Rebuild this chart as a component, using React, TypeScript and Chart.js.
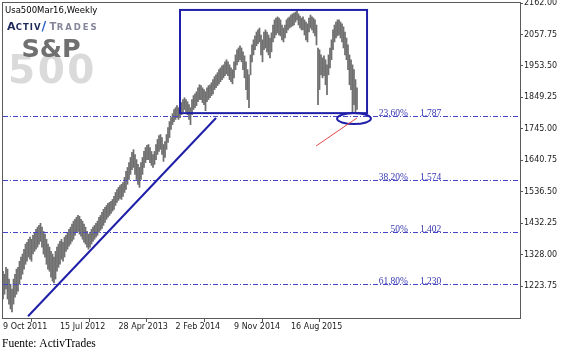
import React, { useEffect, useRef } from 'react';
import { Chart, registerables } from 'chart.js';

Chart.register(...registerables);

// Weekly high / low of Usa500Mar16 (one value per weekly bar)
const weeklyHigh = [
  1273, 1263, 1286, 1280, 1247, 1230, 1214, 1247, 1263, 1280,
  1286, 1306, 1320, 1330, 1346, 1363, 1369, 1379, 1386, 1379,
  1392, 1402, 1412, 1419, 1425, 1432, 1419, 1405, 1396, 1379,
  1363, 1353, 1339, 1330, 1320, 1339, 1353, 1363, 1372, 1379,
  1369, 1386, 1392, 1402, 1412, 1419, 1429, 1439, 1445, 1452,
  1458, 1455, 1445, 1439, 1429, 1419, 1405, 1396, 1402, 1412,
  1419, 1425, 1432, 1439, 1452, 1458, 1468, 1478, 1485, 1491,
  1498, 1501, 1505, 1511, 1521, 1534, 1544, 1551, 1557, 1561,
  1567, 1584, 1604, 1617, 1633, 1650, 1667, 1676, 1660, 1643,
  1627, 1617, 1633, 1650, 1670, 1683, 1690, 1693, 1683, 1670,
  1660, 1670, 1693, 1710, 1723, 1726, 1716, 1693, 1703, 1726,
  1749, 1769, 1782, 1795, 1809, 1815, 1822, 1815, 1825, 1832,
  1842, 1848, 1842, 1835, 1825, 1815, 1842, 1855, 1861, 1868,
  1881, 1891, 1888, 1881, 1875, 1868, 1881, 1888, 1891, 1898,
  1908, 1918, 1924, 1931, 1941, 1947, 1954, 1957, 1967, 1974,
  1967, 1957, 1947, 1941, 1967, 1990, 2007, 2013, 2020, 2013,
  2000, 1987, 1967, 1941, 1924, 1990, 2023, 2040, 2053, 2066,
  2073, 2079, 2056, 2040, 2066, 2073, 2066, 2056, 2046, 2063,
  2089, 2106, 2112, 2116, 2112, 2106, 2089, 2079, 2089, 2106,
  2112, 2116, 2122, 2126, 2129, 2132, 2136, 2126, 2119, 2112,
  2116, 2106, 2099, 2093, 2112, 2122, 2116, 2112, 2106, 2089,
  2013, 2007, 1990, 1980, 1987, 1974, 1957, 1990, 2013, 2040,
  2073, 2089, 2099, 2106, 2106, 2099, 2093, 2083, 2066, 2046,
  2023, 1990, 1974, 1957, 1941, 1908, 1881,
];
const weeklyLow = [
  1181, 1197, 1214, 1181, 1164, 1148, 1138, 1164, 1187, 1197,
  1207, 1230, 1247, 1263, 1280, 1296, 1306, 1320, 1313, 1306,
  1330, 1339, 1346, 1353, 1363, 1372, 1353, 1330, 1320, 1296,
  1280, 1273, 1253, 1240, 1234, 1247, 1273, 1286, 1296, 1313,
  1306, 1320, 1339, 1346, 1356, 1363, 1372, 1379, 1392, 1402,
  1405, 1396, 1389, 1379, 1369, 1363, 1353, 1346, 1353, 1363,
  1372, 1379, 1386, 1392, 1402, 1409, 1415, 1425, 1435, 1445,
  1452, 1458, 1465, 1472, 1478, 1491, 1501, 1508, 1514, 1511,
  1521, 1534, 1544, 1561, 1577, 1594, 1610, 1617, 1594, 1577,
  1561, 1551, 1577, 1594, 1617, 1633, 1643, 1643, 1633, 1624,
  1617, 1627, 1643, 1660, 1670, 1677, 1660, 1637, 1650, 1677,
  1700, 1716, 1743, 1759, 1769, 1776, 1782, 1776, 1782, 1792,
  1802, 1809, 1802, 1792, 1776, 1759, 1792, 1809, 1815, 1822,
  1835, 1842, 1842, 1832, 1825, 1805, 1835, 1842, 1848, 1855,
  1861, 1875, 1881, 1888, 1894, 1901, 1908, 1914, 1921, 1927,
  1921, 1908, 1901, 1894, 1914, 1941, 1957, 1967, 1974, 1967,
  1941, 1914, 1875, 1842, 1815, 1924, 1967, 1990, 2007, 2020,
  2027, 2033, 1990, 1967, 2007, 2013, 2000, 1990, 1980, 2000,
  2033, 2046, 2056, 2063, 2056, 2053, 2040, 2033, 2046, 2063,
  2073, 2079, 2083, 2086, 2089, 2099, 2106, 2089, 2079, 2073,
  2073, 2056, 2040, 2033, 2066, 2079, 2073, 2063, 2053, 2023,
  1825, 1875, 1924, 1914, 1921, 1891, 1858, 1924, 1947, 1974,
  2007, 2033, 2046, 2053, 2056, 2046, 2033, 2013, 1990, 1974,
  1941, 1891, 1875, 1802, 1825, 1802, 1809,
];

const priceTicks = [2162.0, 2057.75, 1953.5, 1849.25, 1745.0, 1640.75, 1536.5, 1432.25, 1328.0, 1223.75];
const priceMin = 1118;
const priceMax = 2162;
const barsInView = 344.67;

const dateTickBars = [0, 38, 77, 115, 154, 192];
const dateTickLabels = ['9 Oct 2011', '15 Jul 2012', '28 Apr 2013', '2 Feb 2014', '9 Nov 2014', '16 Aug 2015'];

const fibPercents = ['23,60%', '38,20%', '50%', '61,80%'];
const fibLevels = [1787, 1574, 1402, 1230];
const fibValueTexts = ['1.787', '1.574', '1.402', '1.230'];
const fibPercentBar = 270;
const fibValueBar = 278;

const boxBars = [118, 242.7];
const boxPrices = [2139, 1797];
const trendBars = [16.7, 142];
const trendPrices = [1124, 1781];
const ellipseCenter = [234, 1779];
const ellipseHalf = [11.3, 18.2];
const redBars = [208.7, 236];
const redPrices = [1688, 1781];

const symbolTitle = 'Usa500Mar16,Weekly';
const sourceText = 'Fuente: ActivTrades';

const overlayPlugin = {
  id: 'mt4Overlay',
  beforeDraw(chart: any) {
    const ctx = chart.ctx;
    ctx.save();
    ctx.fillStyle = '#ffffff';
    ctx.fillRect(0, 0, chart.width, chart.height);
    ctx.restore();
  },
  beforeDatasetsDraw(chart: any) {
    const ctx = chart.ctx;
    ctx.save();
    ctx.textAlign = 'left';
    ctx.textBaseline = 'alphabetic';
    ctx.fillStyle = '#dadada';
    ctx.font = 'bold 39px "DejaVu Sans"';
    ctx.letterSpacing = '2.5px';
    ctx.fillText('500', 8, 83);
    ctx.letterSpacing = '0px';
    ctx.fillStyle = '#707070';
    ctx.font = 'bold 25.5px "DejaVu Sans"';
    ctx.fillText('S&P', 21.5, 56.5);
    ctx.fillStyle = '#1b2858';
    ctx.font = 'bold 11px "DejaVu Sans"';
    ctx.fillText('A', 7, 30);
    ctx.font = 'bold 8.5px "DejaVu Sans"';
    ctx.letterSpacing = '1px';
    ctx.fillText('CTIV', 15.8, 30);
    ctx.letterSpacing = '0px';
    ctx.fillStyle = '#2d62c0';
    ctx.font = 'bold 13px "DejaVu Sans"';
    ctx.fillText('/', 41.5, 30);
    ctx.fillStyle = '#85859a';
    ctx.font = 'bold 10px "DejaVu Sans"';
    ctx.fillText('T', 49.5, 30);
    ctx.font = 'bold 8.5px "DejaVu Sans"';
    ctx.letterSpacing = '1.9px';
    ctx.fillText('RADES', 56.8, 30);
    ctx.letterSpacing = '0px';
    ctx.restore();
  },
  afterDatasetsDraw(chart: any) {
    const ctx = chart.ctx;
    const a = chart.chartArea;
    const x = chart.scales.x;
    const y = chart.scales.y;
    ctx.save();
    ctx.beginPath();
    ctx.rect(a.left, a.top, a.right - a.left, a.bottom - a.top);
    ctx.clip();

    // Fibonacci levels
    ctx.strokeStyle = '#4646c4';
    ctx.lineWidth = 1;
    ctx.setLineDash([5, 2, 1, 2]);
    fibLevels.forEach((v) => {
      const py = Math.round(y.getPixelForValue(v)) + 0.5;
      ctx.beginPath();
      ctx.moveTo(a.left, py);
      ctx.lineTo(a.right, py);
      ctx.stroke();
    });
    ctx.setLineDash([]);
    ctx.font = '9.5px "Liberation Serif"';
    ctx.fillStyle = '#3636b0';
    ctx.textBaseline = 'alphabetic';
    fibLevels.forEach((v, i) => {
      const py = Math.round(y.getPixelForValue(v)) - 0.5;
      ctx.textAlign = 'right';
      ctx.fillText(fibPercents[i], x.getPixelForValue(fibPercentBar), py);
      ctx.textAlign = 'left';
      ctx.fillText(fibValueTexts[i], x.getPixelForValue(fibValueBar), py);
    });

    // Rectangle
    ctx.strokeStyle = '#1f1fa8';
    ctx.lineWidth = 2;
    const bx1 = x.getPixelForValue(boxBars[0]);
    const bx2 = x.getPixelForValue(boxBars[1]);
    const by1 = y.getPixelForValue(boxPrices[0]);
    const by2 = y.getPixelForValue(boxPrices[1]);
    ctx.strokeRect(bx1, by1, bx2 - bx1, by2 - by1);

    // Trend line
    ctx.beginPath();
    ctx.moveTo(x.getPixelForValue(trendBars[0]), y.getPixelForValue(trendPrices[0]));
    ctx.lineTo(x.getPixelForValue(trendBars[1]), y.getPixelForValue(trendPrices[1]));
    ctx.stroke();

    // Ellipse
    const ecx = x.getPixelForValue(ellipseCenter[0]);
    const ecy = y.getPixelForValue(ellipseCenter[1]);
    const erx = Math.abs(x.getPixelForValue(ellipseCenter[0] + ellipseHalf[0]) - ecx);
    const ery = Math.abs(y.getPixelForValue(ellipseCenter[1] + ellipseHalf[1]) - ecy);
    ctx.beginPath();
    ctx.ellipse(ecx, ecy, erx, ery, 0, 0, Math.PI * 2);
    ctx.stroke();

    // Red line
    ctx.strokeStyle = '#e34a4a';
    ctx.lineWidth = 1;
    ctx.beginPath();
    ctx.moveTo(x.getPixelForValue(redBars[0]), y.getPixelForValue(redPrices[0]));
    ctx.lineTo(x.getPixelForValue(redBars[1]), y.getPixelForValue(redPrices[1]));
    ctx.stroke();
    ctx.restore();

    // Frame
    ctx.save();
    ctx.strokeStyle = '#5a5a5a';
    ctx.lineWidth = 1;
    ctx.strokeRect(a.left - 0.5, a.top - 0.5, a.right - a.left + 1, a.bottom - a.top + 1);
    ctx.restore();
  },
  afterDraw(chart: any) {
    const ctx = chart.ctx;
    ctx.save();
    ctx.textAlign = 'left';
    ctx.textBaseline = 'alphabetic';
    ctx.fillStyle = '#000000';
    ctx.font = '8.5px "DejaVu Sans"';
    ctx.fillText(symbolTitle, 5, 12.5);
    ctx.font = '11.5px "Liberation Serif"';
    ctx.fillText(sourceText, 2, 347);
    ctx.restore();
  },
};

export default function App() {
  const ref = useRef<HTMLCanvasElement | null>(null);
  useEffect(() => {
    if (!ref.current) return;
    const chart = new Chart(ref.current, {
      type: 'bar',
      data: {
        datasets: [
          {
            data: weeklyHigh.map((h, i) => ({ x: i, y: [weeklyLow[i], h] })) as any,
            backgroundColor: '#6f6f6f',
            borderWidth: 0,
            barThickness: 1.1,
            grouped: false,
          } as any,
        ],
      },
      options: {
        animation: false,
        responsive: false,
        devicePixelRatio: 1,
        events: [],
        layout: { padding: { left: 3, top: 3, right: 0, bottom: 0 } },
        plugins: { legend: { display: false }, tooltip: { enabled: false } },
        scales: {
          x: {
            type: 'linear',
            min: 0,
            max: barsInView,
            offset: false,
            grid: { drawOnChartArea: false, drawTicks: true, tickLength: 4, color: '#555555' },
            border: { display: false },
            ticks: {
              autoSkip: false,
              maxRotation: 0,
              align: 'start',
              padding: 0,
              color: '#222222',
              font: { family: 'DejaVu Sans', size: 8 },
              callback: (_v: any, i: number) => dateTickLabels[i],
            },
            afterBuildTicks: (s: any) => {
              s.ticks = dateTickBars.map((v) => ({ value: v }));
            },
            afterFit: (s: any) => {
              s.height = 38;
              s.paddingLeft = 0;
              s.paddingRight = 0;
            },
          } as any,
          y: {
            type: 'linear',
            position: 'right',
            min: priceMin,
            max: priceMax,
            grid: { drawOnChartArea: false, drawTicks: true, tickLength: 3, color: '#555555' },
            border: { display: false },
            ticks: {
              autoSkip: false,
              padding: 1,
              color: '#222222',
              font: { family: 'DejaVu Sans', size: 8 },
              callback: (v: any) => Number(v).toFixed(2),
            },
            afterBuildTicks: (s: any) => {
              s.ticks = priceTicks.map((v) => ({ value: v }));
            },
            afterFit: (s: any) => {
              s.width = 50;
              s.paddingTop = 0;
              s.paddingBottom = 0;
            },
          } as any,
        },
      },
      plugins: [overlayPlugin],
    });
    return () => chart.destroy();
  }, []);
  return (
    <div style={{ position: 'absolute', left: 0, top: 0, width: 570, height: 356, background: '#ffffff' }}>
      <canvas ref={ref} width={570} height={356} style={{ display: 'block' }} />
    </div>
  );
}
